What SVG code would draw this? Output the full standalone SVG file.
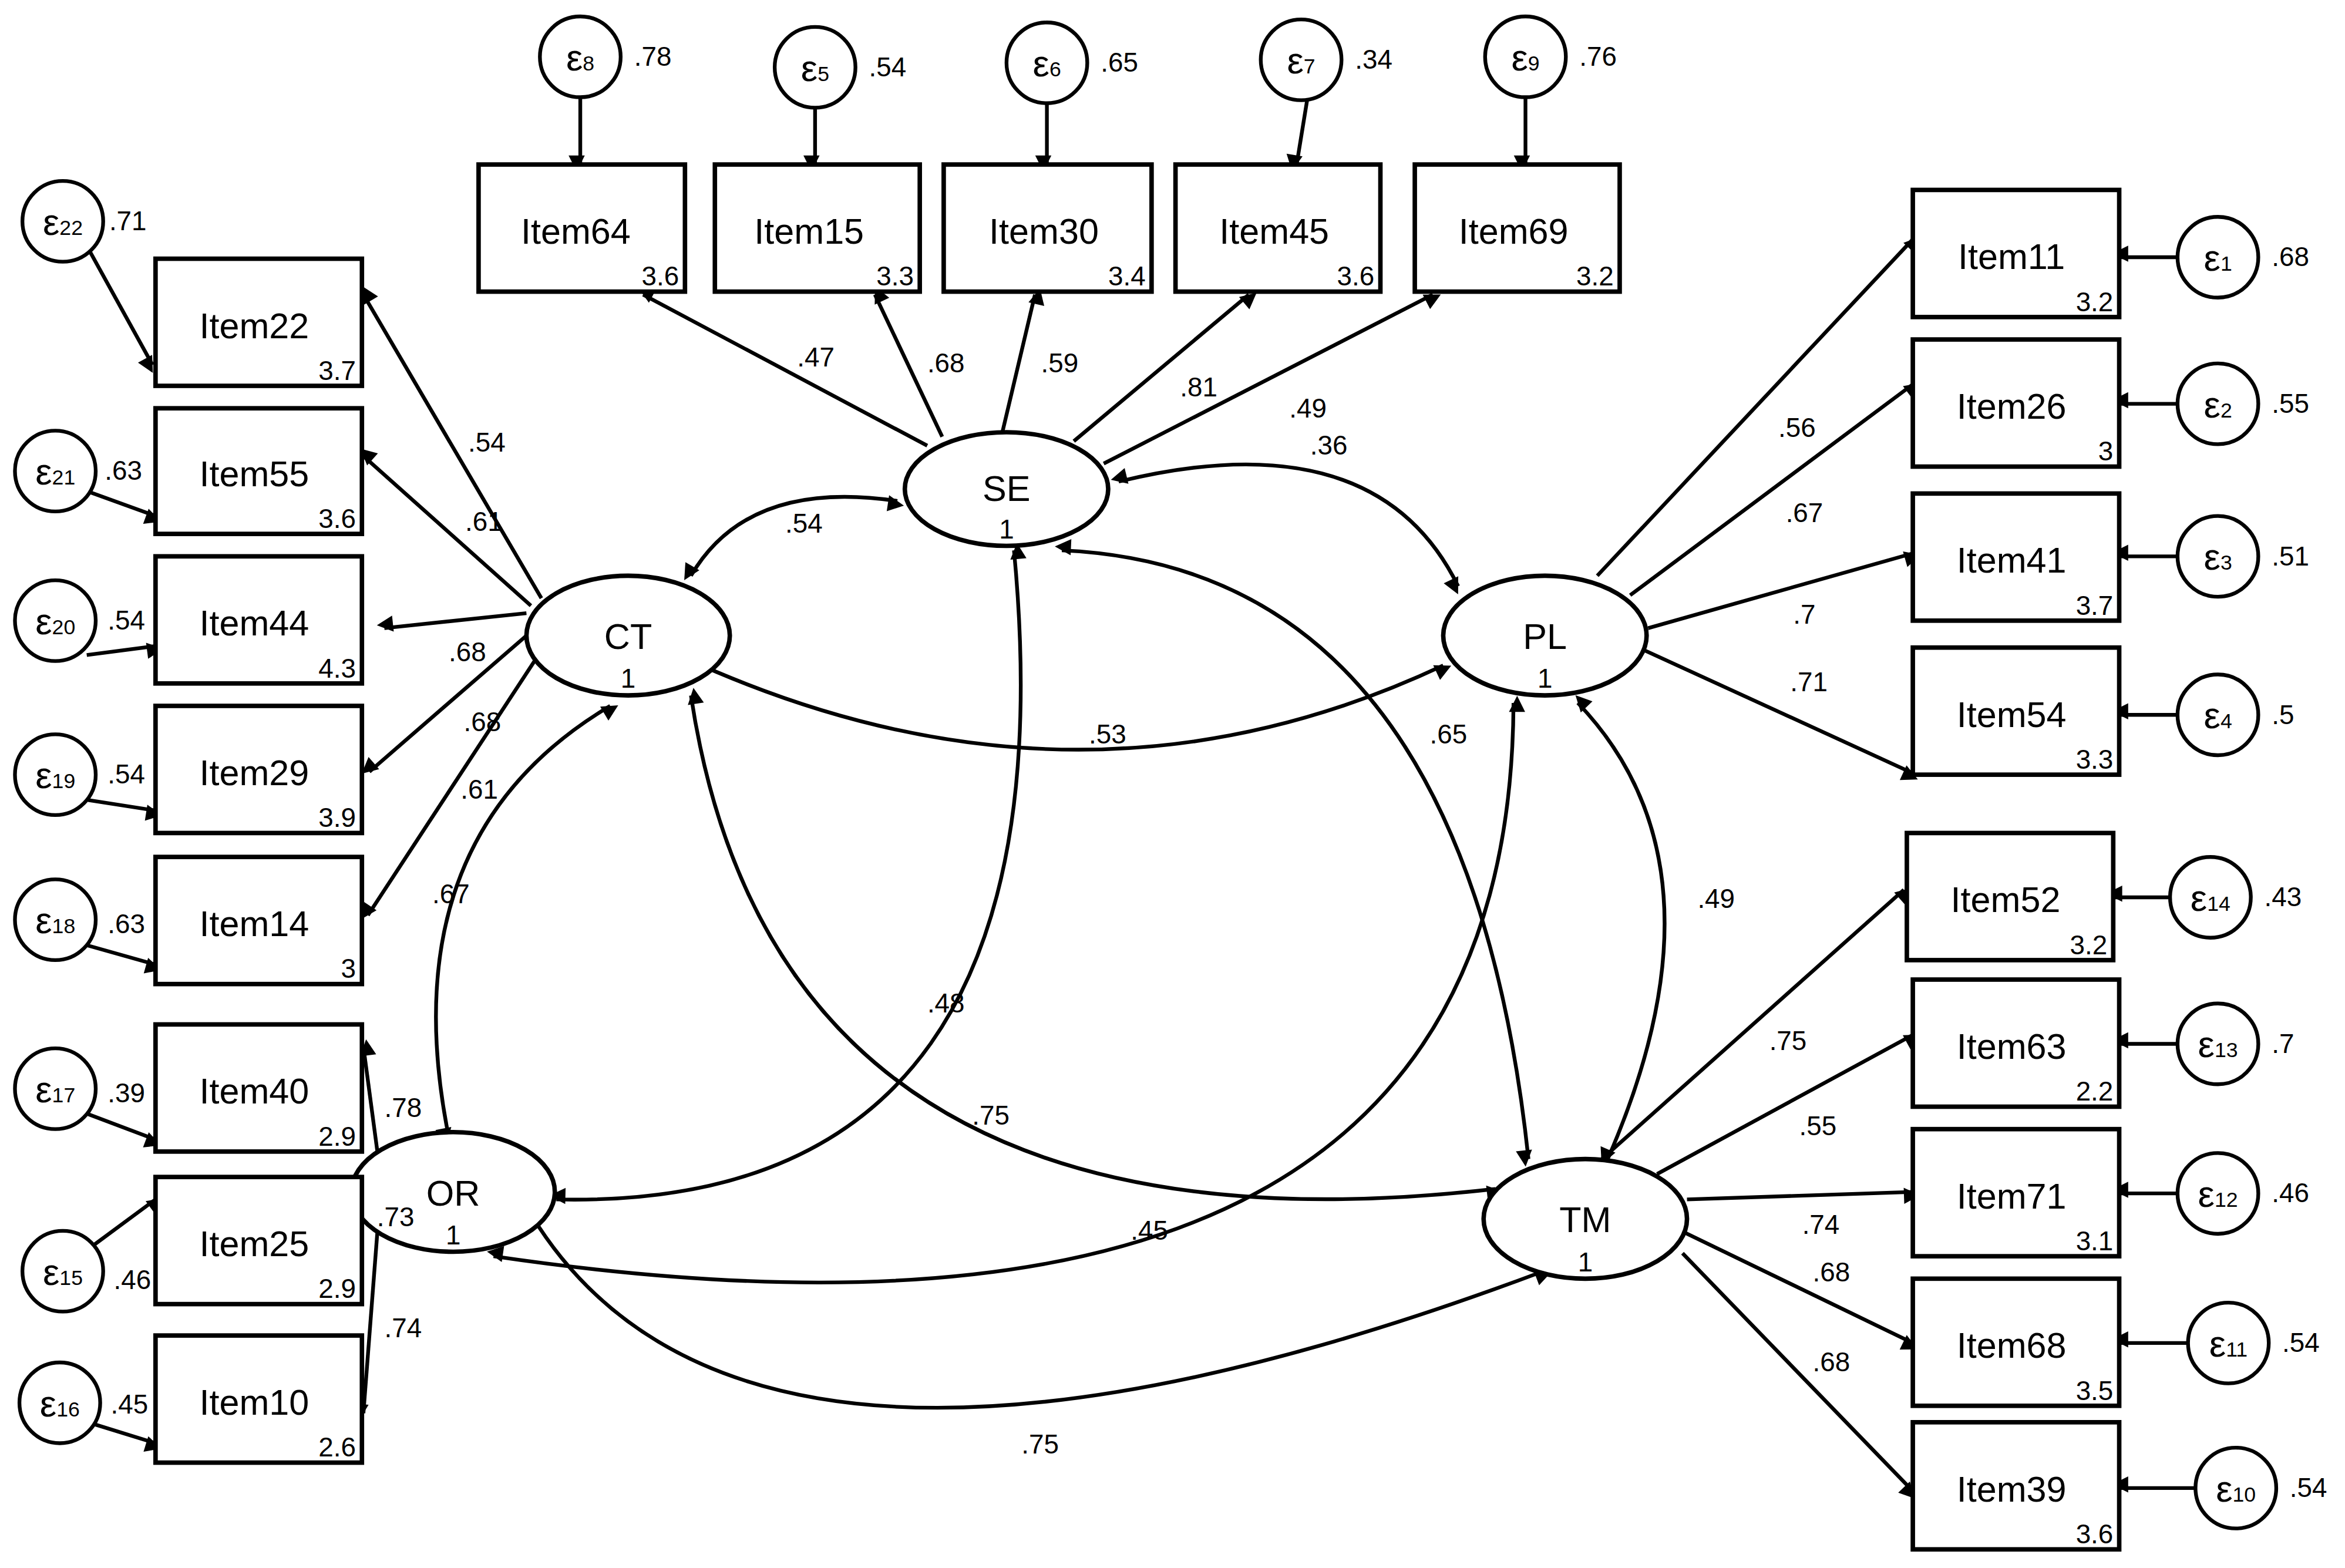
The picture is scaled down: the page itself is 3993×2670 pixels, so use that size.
<svg xmlns="http://www.w3.org/2000/svg" width="3993" height="2670" viewBox="0 0 3993 2670">
<style>
.b{fill:#fff;stroke:#000;stroke-width:3}
.e{fill:#fff;stroke:#000;stroke-width:2.5}
.l{fill:none;stroke:#000;stroke-width:2.5;marker-end:url(#a)}
.c{fill:none;stroke:#000;stroke-width:2.5;marker-start:url(#a);marker-end:url(#a)}
text{font-family:"Liberation Sans",Arial,sans-serif;fill:#000}
.t{font-size:24px;text-anchor:middle}
.s{font-size:18px}
.m{font-size:18px;text-anchor:end}
.g{font-size:25px;text-anchor:middle}
</style>
<defs><marker id="a" viewBox="0 0 10 10" refX="10" refY="5" markerWidth="7" markerHeight="6" orient="auto-start-reverse" markerUnits="userSpaceOnUse" style="overflow:visible"><path d="M0,0L10,5L0,10z" transform="scale(1.8)" fill="#000"/></marker></defs>
<rect width="3993" height="2670" fill="#fff"/>
<g transform="scale(2.5466)">
<g id="connectors">
<!-- SE loadings -->
<path class="l" d="M620,298L430,197"/><path class="l" d="M630,292L585,197"/><path class="l" d="M670,290L692,197"/><path class="l" d="M718,295L835,197"/><path class="l" d="M738,310L958,197"/>
<!-- CT loadings -->
<path class="l" d="M362,400L243,197"/><path class="l" d="M355,405L243,305"/><path class="l" d="M352,410L257,420"/><path class="l" d="M352,425L247,516"/><path class="l" d="M360,438L246,612"/>
<!-- PL loadings -->
<path class="l" d="M1068,385L1279,160"/><path class="l" d="M1090,398L1279,257"/><path class="l" d="M1102,420L1279,370"/><path class="l" d="M1100,435L1279,517"/>
<!-- OR loadings -->
<path class="l" d="M255,790L243,700"/><path class="l" d="M243,800L233,815"/><path class="l" d="M253,815L243,945"/>
<!-- TM loadings -->
<path class="l" d="M1070,776L1273,595"/><path class="l" d="M1108,785L1279,692"/><path class="l" d="M1128,802L1279,797"/><path class="l" d="M1122,822L1279,898"/><path class="l" d="M1125,838L1279,997"/>
<!-- errors -->
<path class="l" d="M388,65L388,110"/><path class="l" d="M545,72L545,110"/><path class="l" d="M700,69L700,110"/><path class="l" d="M874,67L867,110"/><path class="l" d="M1020,65L1020,110"/>
<path class="l" d="M60,168L102,244"/><path class="l" d="M57,328L104,345"/><path class="l" d="M58,438L104,432"/><path class="l" d="M59,535L104,542"/><path class="l" d="M58,632L104,645"/><path class="l" d="M59,745L104,762"/><path class="l" d="M62,833L104,802"/><path class="l" d="M62,952L104,965"/>
<path class="l" d="M1456,172L1417,172"/><path class="l" d="M1456,270L1417,270"/><path class="l" d="M1456,372L1417,372"/><path class="l" d="M1456,478L1417,478"/><path class="l" d="M1451,600L1413,600"/><path class="l" d="M1456,698L1417,698"/><path class="l" d="M1456,798L1417,798"/><path class="l" d="M1463,898L1417,898"/><path class="l" d="M1468,995L1417,995"/>
<!-- covariances -->
<path class="c" d="M462,385Q500,320 600,335"/>
<path class="c" d="M748,322Q920,280 975,392"/>
<path class="c" d="M458,440Q720,560 965,445"/>
<path class="c" d="M678,368Q720,810 372,802"/>
<path class="c" d="M710,368Q980,380 1022,775"/>
<path class="c" d="M462,465Q520,850 1000,795"/>
<path class="c" d="M408,472Q260,560 300,760"/>
<path class="c" d="M1012,470Q1010,940 330,840"/>
<path class="c" d="M1055,470Q1160,580 1075,775"/>
<path class="c" d="M355,812Q500,1050 1032,850"/>
</g>
<g id="nodes">
<g id="SE"><ellipse class="b" cx="673" cy="327" rx="68" ry="38"/><text class="t" x="673" y="335">SE</text><text class="s" x="668" y="360">1</text></g>
<g id="CT"><ellipse class="b" cx="420" cy="425" rx="68" ry="40"/><text class="t" x="420" y="434">CT</text><text class="s" x="415" y="460">1</text></g>
<g id="PL"><ellipse class="b" cx="1033" cy="425" rx="68" ry="40"/><text class="t" x="1033" y="434">PL</text><text class="s" x="1028" y="460">1</text></g>
<g id="OR"><ellipse class="b" cx="303" cy="797" rx="68" ry="40"/><text class="t" x="303" y="806">OR</text><text class="s" x="298" y="832">1</text></g>
<g id="TM"><ellipse class="b" cx="1060" cy="815" rx="68" ry="40"/><text class="t" x="1060" y="824">TM</text><text class="s" x="1055" y="850">1</text></g>
<g id="Item64"><rect class="b" x="320" y="110" width="138" height="85"/><text class="t" x="385" y="163">Item64</text><text class="m" x="454" y="191">3.6</text></g>
<g id="Item15"><rect class="b" x="478" y="110" width="137" height="85"/><text class="t" x="541" y="163">Item15</text><text class="m" x="611" y="191">3.3</text></g>
<g id="Item30"><rect class="b" x="631" y="110" width="139" height="85"/><text class="t" x="698" y="163">Item30</text><text class="m" x="766" y="191">3.4</text></g>
<g id="Item45"><rect class="b" x="786" y="110" width="137" height="85"/><text class="t" x="852" y="163">Item45</text><text class="m" x="919" y="191">3.6</text></g>
<g id="Item69"><rect class="b" x="946" y="110" width="137" height="85"/><text class="t" x="1012" y="163">Item69</text><text class="m" x="1079" y="191">3.2</text></g>
<g id="Item22"><rect class="b" x="104" y="173" width="138" height="85"/><text class="t" x="170" y="226">Item22</text><text class="m" x="238" y="254">3.7</text></g>
<g id="Item55"><rect class="b" x="104" y="273" width="138" height="84"/><text class="t" x="170" y="325">Item55</text><text class="m" x="238" y="353">3.6</text></g>
<g id="Item44"><rect class="b" x="104" y="372" width="138" height="85"/><text class="t" x="170" y="425">Item44</text><text class="m" x="238" y="453">4.3</text></g>
<g id="Item29"><rect class="b" x="104" y="472" width="138" height="85"/><text class="t" x="170" y="525">Item29</text><text class="m" x="238" y="553">3.9</text></g>
<g id="Item14"><rect class="b" x="104" y="573" width="138" height="85"/><text class="t" x="170" y="626">Item14</text><text class="m" x="238" y="654">3</text></g>
<g id="Item40"><rect class="b" x="104" y="685" width="138" height="85"/><text class="t" x="170" y="738">Item40</text><text class="m" x="238" y="766">2.9</text></g>
<g id="Item25"><rect class="b" x="104" y="787" width="138" height="85"/><text class="t" x="170" y="840">Item25</text><text class="m" x="238" y="868">2.9</text></g>
<g id="Item10"><rect class="b" x="104" y="893" width="138" height="85"/><text class="t" x="170" y="946">Item10</text><text class="m" x="238" y="974">2.6</text></g>
<g id="Item11"><rect class="b" x="1279" y="127" width="138" height="85"/><text class="t" x="1345" y="180">Item11</text><text class="m" x="1413" y="208">3.2</text></g>
<g id="Item26"><rect class="b" x="1279" y="227" width="138" height="85"/><text class="t" x="1345" y="280">Item26</text><text class="m" x="1413" y="308">3</text></g>
<g id="Item41"><rect class="b" x="1279" y="330" width="138" height="85"/><text class="t" x="1345" y="383">Item41</text><text class="m" x="1413" y="411">3.7</text></g>
<g id="Item54"><rect class="b" x="1279" y="433" width="138" height="85"/><text class="t" x="1345" y="486">Item54</text><text class="m" x="1413" y="514">3.3</text></g>
<g id="Item52"><rect class="b" x="1275" y="557" width="138" height="85"/><text class="t" x="1341" y="610">Item52</text><text class="m" x="1409" y="638">3.2</text></g>
<g id="Item63"><rect class="b" x="1279" y="655" width="138" height="85"/><text class="t" x="1345" y="708">Item63</text><text class="m" x="1413" y="736">2.2</text></g>
<g id="Item71"><rect class="b" x="1279" y="755" width="138" height="85"/><text class="t" x="1345" y="808">Item71</text><text class="m" x="1413" y="836">3.1</text></g>
<g id="Item68"><rect class="b" x="1279" y="855" width="138" height="85"/><text class="t" x="1345" y="908">Item68</text><text class="m" x="1413" y="936">3.5</text></g>
<g id="Item39"><rect class="b" x="1279" y="951" width="138" height="85"/><text class="t" x="1345" y="1004">Item39</text><text class="m" x="1413" y="1032">3.6</text></g>
<!-- errors -->
<g id="e8"><circle class="e" cx="388" cy="38" r="27"/><text class="g" x="388" y="47">ε<tspan font-size="14">8</tspan></text><text class="s" x="424" y="44">.78</text></g>
<g id="e5"><circle class="e" cx="545" cy="45" r="27"/><text class="g" x="545" y="54">ε<tspan font-size="14">5</tspan></text><text class="s" x="581" y="51">.54</text></g>
<g id="e6"><circle class="e" cx="700" cy="42" r="27"/><text class="g" x="700" y="51">ε<tspan font-size="14">6</tspan></text><text class="s" x="736" y="48">.65</text></g>
<g id="e7"><circle class="e" cx="870" cy="40" r="27"/><text class="g" x="870" y="49">ε<tspan font-size="14">7</tspan></text><text class="s" x="906" y="46">.34</text></g>
<g id="e9"><circle class="e" cx="1020" cy="38" r="27"/><text class="g" x="1020" y="47">ε<tspan font-size="14">9</tspan></text><text class="s" x="1056" y="44">.76</text></g>
<g id="e22"><circle class="e" cx="42" cy="148" r="27"/><text class="g" x="42" y="157">ε<tspan font-size="14">22</tspan></text><text class="s" x="73" y="154">.71</text></g>
<g id="e21"><circle class="e" cx="37" cy="315" r="27"/><text class="g" x="37" y="324">ε<tspan font-size="14">21</tspan></text><text class="s" x="70" y="321">.63</text></g>
<g id="e20"><circle class="e" cx="37" cy="415" r="27"/><text class="g" x="37" y="424">ε<tspan font-size="14">20</tspan></text><text class="s" x="72" y="421">.54</text></g>
<g id="e19"><circle class="e" cx="37" cy="518" r="27"/><text class="g" x="37" y="527">ε<tspan font-size="14">19</tspan></text><text class="s" x="72" y="524">.54</text></g>
<g id="e18"><circle class="e" cx="37" cy="615" r="27"/><text class="g" x="37" y="624">ε<tspan font-size="14">18</tspan></text><text class="s" x="72" y="624">.63</text></g>
<g id="e17"><circle class="e" cx="37" cy="728" r="27"/><text class="g" x="37" y="737">ε<tspan font-size="14">17</tspan></text><text class="s" x="72" y="737">.39</text></g>
<g id="e15"><circle class="e" cx="42" cy="850" r="27"/><text class="g" x="42" y="859">ε<tspan font-size="14">15</tspan></text><text class="s" x="76" y="862">.46</text></g>
<g id="e16"><circle class="e" cx="40" cy="938" r="27"/><text class="g" x="40" y="947">ε<tspan font-size="14">16</tspan></text><text class="s" x="74" y="945">.45</text></g>
<g id="e1"><circle class="e" cx="1483" cy="172" r="27"/><text class="g" x="1483" y="181">ε<tspan font-size="14">1</tspan></text><text class="s" x="1519" y="178">.68</text></g>
<g id="e2"><circle class="e" cx="1483" cy="270" r="27"/><text class="g" x="1483" y="279">ε<tspan font-size="14">2</tspan></text><text class="s" x="1519" y="276">.55</text></g>
<g id="e3"><circle class="e" cx="1483" cy="372" r="27"/><text class="g" x="1483" y="381">ε<tspan font-size="14">3</tspan></text><text class="s" x="1519" y="378">.51</text></g>
<g id="e4"><circle class="e" cx="1483" cy="478" r="27"/><text class="g" x="1483" y="487">ε<tspan font-size="14">4</tspan></text><text class="s" x="1519" y="484">.5</text></g>
<g id="e14"><circle class="e" cx="1478" cy="600" r="27"/><text class="g" x="1478" y="609">ε<tspan font-size="14">14</tspan></text><text class="s" x="1514" y="606">.43</text></g>
<g id="e13"><circle class="e" cx="1483" cy="698" r="27"/><text class="g" x="1483" y="707">ε<tspan font-size="14">13</tspan></text><text class="s" x="1519" y="704">.7</text></g>
<g id="e12"><circle class="e" cx="1483" cy="798" r="27"/><text class="g" x="1483" y="807">ε<tspan font-size="14">12</tspan></text><text class="s" x="1519" y="804">.46</text></g>
<g id="e11"><circle class="e" cx="1490" cy="898" r="27"/><text class="g" x="1490" y="907">ε<tspan font-size="14">11</tspan></text><text class="s" x="1526" y="904">.54</text></g>
<g id="e10"><circle class="e" cx="1495" cy="995" r="27"/><text class="g" x="1495" y="1004">ε<tspan font-size="14">10</tspan></text><text class="s" x="1531" y="1001">.54</text></g>
</g>
<g id="labels" class="s">
<text x="533" y="245">.47</text><text x="620" y="249">.68</text><text x="696" y="249">.59</text><text x="789" y="265">.81</text><text x="862" y="279">.49</text>
<text x="876" y="304">.36</text><text x="525" y="356">.54</text><text x="728" y="497">.53</text><text x="956" y="497">.65</text>
<text x="313" y="302">.54</text><text x="311" y="355">.61</text><text x="300" y="442">.68</text><text x="310" y="489">.68</text><text x="308" y="534">.61</text><text x="289" y="604">.67</text>
<text x="620" y="677">.48</text><text x="650" y="752">.75</text><text x="756" y="829">.45</text><text x="1135" y="607">.49</text><text x="683" y="972">.75</text>
<text x="257" y="747">.78</text><text x="252" y="820">.73</text><text x="257" y="894">.74</text>
<text x="1189" y="292">.56</text><text x="1194" y="349">.67</text><text x="1199" y="417">.7</text><text x="1197" y="462">.71</text>
<text x="1183" y="702">.75</text><text x="1203" y="759">.55</text><text x="1205" y="825">.74</text><text x="1212" y="857">.68</text><text x="1212" y="917">.68</text>
</g>
</g>
</svg>
